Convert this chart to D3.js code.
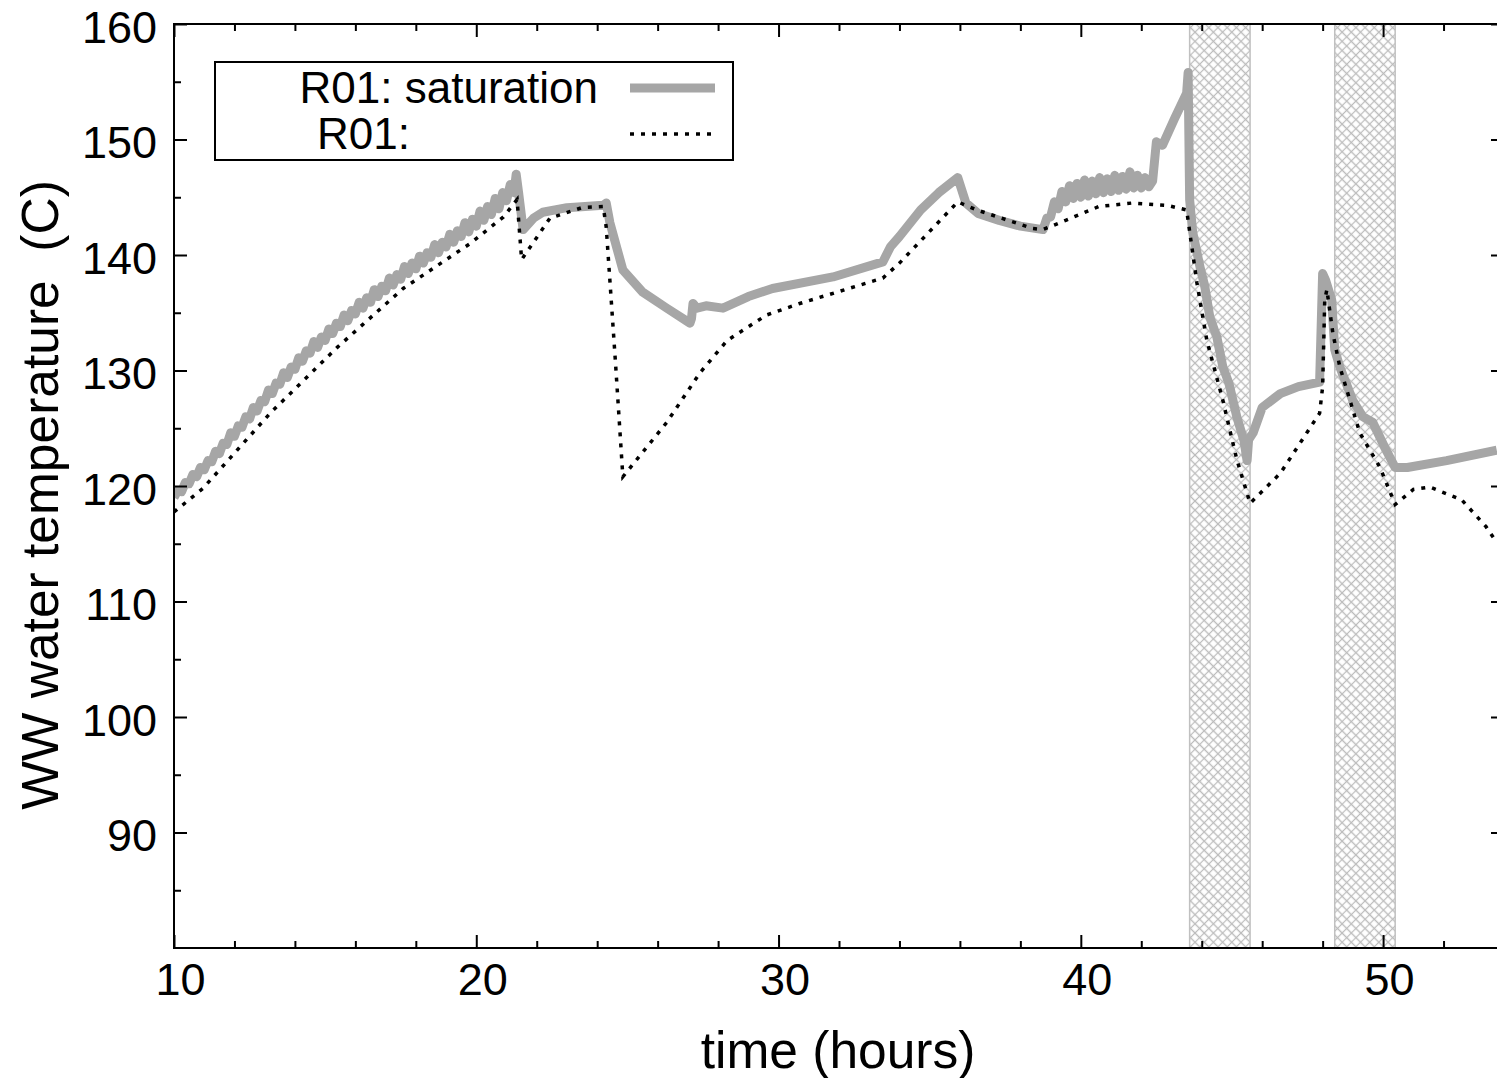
<!DOCTYPE html>
<html>
<head>
<meta charset="utf-8">
<script src="https://d3js.org/d3.v7.min.js"></script>
<style>
  body { margin: 0; background: #fff; }
  svg { display: block; font-family: "Liberation Sans", Arial, sans-serif; }
</style>
</head>
<body>
<div id="chart"></div>
<script>
// saturation temperature (grey, thick) - noisy parts read as a fine zigzag
const satTime = [
  10.000, 10.125, 10.250, 10.375, 10.500, 10.625, 10.750, 10.875, 11.000, 11.125,
  11.250, 11.375, 11.500, 11.625, 11.750, 11.875, 12.000, 12.125, 12.250, 12.375,
  12.500, 12.625, 12.750, 12.875, 13.000, 13.125, 13.250, 13.375, 13.500, 13.625,
  13.750, 13.875, 14.000, 14.125, 14.250, 14.375, 14.500, 14.625, 14.750, 14.875,
  15.000, 15.125, 15.250, 15.375, 15.500, 15.625, 15.750, 15.875, 16.000, 16.125,
  16.250, 16.375, 16.500, 16.625, 16.750, 16.875, 17.000, 17.125, 17.250, 17.375,
  17.500, 17.625, 17.750, 17.875, 18.000, 18.125, 18.250, 18.375, 18.500, 18.625,
  18.750, 18.875, 19.000, 19.125, 19.250, 19.375, 19.500, 19.625, 19.750, 19.875,
  20.000, 20.125, 20.250, 20.375, 20.500, 20.625, 20.750, 20.875, 21.000, 21.125,
  21.250, 21.32, 21.40, 21.55,
  21.9, 22.2, 23.0, 24.2, 24.3, 24.42, 24.85, 25.5, 26.3, 27.07, 27.12, 27.17,
  27.3, 27.6, 28.16, 29.0, 29.8, 31.8, 33.45, 33.7, 34.0, 34.7, 35.3, 35.93,
  36.2, 36.6, 37.3, 38.0, 38.75,
  38.875, 39.000, 39.125, 39.250, 39.375, 39.500, 39.625, 39.750, 39.875, 40.000,
  40.125, 40.250, 40.375, 40.500, 40.625, 40.750, 40.875, 41.000, 41.125, 41.250,
  41.375, 41.500, 41.625, 41.750, 41.875, 42.000, 42.125, 42.250, 42.375,
  42.5, 42.7, 43.1, 43.5, 43.55, 43.6, 43.7, 43.94, 44.1, 44.27, 44.5, 44.7, 44.9,
  45.16, 45.4, 45.5, 45.55, 45.7, 46.0, 46.6, 47.2, 47.9, 48.0, 48.1, 48.3, 48.4,
  48.57, 49.0, 49.33, 49.66, 50.1, 50.4, 50.8, 52.1, 53.76
];
const satTemp = [
  119.0, 119.6, 119.5, 120.3, 120.2, 121.0, 120.8, 121.6, 121.4, 122.2,
  122.1, 123.0, 122.8, 123.7, 123.6, 124.6, 124.3, 125.2, 125.1, 126.0,
  125.8, 126.8, 126.5, 127.4, 127.3, 128.3, 128.0, 128.9, 128.8, 129.8,
  129.4, 130.3, 130.1, 131.1, 130.8, 131.7, 131.5, 132.5, 132.0, 132.9,
  132.6, 133.6, 133.2, 134.1, 133.8, 134.8, 134.3, 135.2, 134.9, 135.9,
  135.4, 136.3, 135.9, 137.0, 136.4, 137.3, 136.9, 138.0, 137.4, 138.3,
  137.9, 139.0, 138.4, 139.3, 138.8, 139.9, 139.3, 140.2, 139.8, 140.9,
  140.2, 141.1, 140.7, 141.8, 141.1, 142.1, 141.6, 142.8, 142.0, 143.1,
  142.5, 143.8, 143.0, 144.2, 143.5, 144.9, 144.0, 145.4, 144.7, 146.1,
  145.4, 147.0, 145.4, 142.2,
  143.2, 143.7, 144.1, 144.3, 144.5, 142.8, 138.7, 136.8, 135.4, 134.1, 134.5, 135.8,
  135.4, 135.6, 135.4, 136.4, 137.1, 138.1, 139.4, 140.7, 141.6, 143.9, 145.4, 146.7,
  144.5, 143.6, 143.0, 142.5, 142.2,
  143.2, 143.3, 144.6, 144.0, 145.5, 144.6, 146.0, 144.9, 146.2, 145.0,
  146.5, 145.1, 146.4, 145.3, 146.7, 145.4, 146.6, 145.5, 146.9, 145.6,
  146.8, 145.7, 147.2, 145.8, 146.9, 145.8, 146.7, 145.9, 146.4,
  149.8, 149.5, 151.8, 154.0, 155.8, 144.8, 142.0, 139.0, 137.3, 134.6, 132.9, 130.3, 128.9,
  126.0, 123.9, 122.2, 124.0, 124.6, 126.8, 128.0, 128.6, 129.0, 138.4, 137.8, 136.1, 131.8,
  130.3, 127.4, 126.0, 125.5, 123.1, 121.6, 121.6, 122.2, 123.1
];

// second R01 series (black, dotted)
const dotTime = [
  10.0, 10.96, 13.18, 15.4, 17.58, 19.8, 20.9, 21.35, 21.5, 22.44, 23.5, 24.2,
  24.3, 24.6, 24.85, 26.3, 27.4, 28.3, 29.6, 30.7, 33.45, 34.0, 35.93, 36.56,
  38.4, 38.75, 39.5, 40.6, 41.7, 42.85, 43.5, 43.84, 44.17, 44.7, 45.16, 45.6,
  46.6, 47.9, 48.0, 48.07, 48.14, 48.34, 48.57, 49.23, 49.9, 50.4, 51.0, 51.55,
  52.6, 53.4, 53.76
];
const dotTemp = [
  117.75, 119.8, 126.3, 132.0, 137.1, 141.0, 143.3, 144.8, 139.6, 143.2, 144.1, 144.2,
  142.4, 130.9, 120.8, 125.5, 129.8, 132.6, 134.8, 135.8, 138.0, 139.3, 144.6, 143.9,
  142.3, 142.2, 143.0, 144.2, 144.5, 144.3, 143.9, 137.6, 132.6, 127.4, 122.3, 118.5,
  121.1, 126.3, 128.6, 136.1, 137.0, 133.2, 130.3, 124.6, 121.6, 118.4, 119.7, 119.9,
  118.8, 116.5, 115.1
];

// hatched time windows
const bandStart = [43.6, 48.4];
const bandEnd = [45.6, 50.4];

const xTicks = [10, 20, 30, 40, 50];
const yTicks = [90, 100, 110, 120, 130, 140, 150, 160];

const legendLabels = ["R01: saturation", "R01:"];

const W = 1497, H = 1078;
const plot = {left: 174, top: 24, right: 1504, bottom: 948};

const svg = d3.select("#chart").append("svg")
  .attr("width", W)
  .attr("height", H);

const x = d3.scaleLinear().domain([10, 54]).range([plot.left, plot.right]);
const y = d3.scaleLinear().domain([80, 160]).range([plot.bottom, plot.top]);

const defs = svg.append("defs");
defs.append("clipPath").attr("id", "clip")
  .append("rect")
  .attr("x", plot.left).attr("y", plot.top)
  .attr("width", plot.right - plot.left).attr("height", plot.bottom - plot.top);

const pat = defs.append("pattern")
  .attr("id", "hatch")
  .attr("patternUnits", "userSpaceOnUse")
  .attr("width", 6.5).attr("height", 6.5)
  .attr("patternTransform", "rotate(45)");
pat.append("path")
  .attr("d", "M0,3.25 H6.5 M3.25,0 V6.5")
  .attr("stroke", "#bcbcbc")
  .attr("stroke-width", 1.2);

const g = svg.append("g").attr("clip-path", "url(#clip)");

// hatched bands
g.selectAll(".band")
  .data(bandStart.map((s, i) => ({s: s, e: bandEnd[i]})))
  .join("rect")
  .attr("class", "band")
  .attr("x", d => x(d.s))
  .attr("y", plot.top)
  .attr("width", d => x(d.e) - x(d.s))
  .attr("height", plot.bottom - plot.top)
  .attr("fill", "url(#hatch)")
  .attr("stroke", "#c0c0c0")
  .attr("stroke-width", 1.5);

const line = d3.line()
  .x(d => x(d[0]))
  .y(d => y(d[1]));

g.append("path")
  .datum(satTime.map((t, i) => [t, satTemp[i]]))
  .attr("fill", "none")
  .attr("stroke", "#a6a6a6")
  .attr("stroke-width", 9)
  .attr("stroke-linejoin", "round")
  .attr("d", line);

g.append("path")
  .datum(dotTime.map((t, i) => [t, dotTemp[i]]))
  .attr("fill", "none")
  .attr("stroke", "#000")
  .attr("stroke-width", 3.5)
  .attr("stroke-dasharray", "4,7")
  .attr("d", line);

// axes: ticks drawn inward on all four sides
function styleAxis(sel) {
  sel.select(".domain").remove();
  sel.selectAll(".tick line").attr("stroke", "#000").attr("stroke-width", 2);
  sel.selectAll(".tick text").attr("fill", "#000");
}

const xMinor = d3.range(10, 56, 2).filter(v => v % 10 !== 0);
const yMinor = d3.range(85, 160, 10);

svg.append("g")
  .attr("transform", `translate(0,${plot.bottom})`)
  .call(d3.axisBottom(x).tickValues(xTicks).tickSize(-13).tickPadding(13))
  .call(styleAxis)
  .call(s => s.selectAll(".tick text").attr("font-size", 45).attr("dx", 6).attr("dy", "0.75em"));

svg.append("g")
  .attr("transform", `translate(0,${plot.bottom})`)
  .call(d3.axisBottom(x).tickValues(xMinor).tickSize(-7).tickFormat(""))
  .call(styleAxis);

svg.append("g")
  .attr("transform", `translate(0,${plot.top})`)
  .call(d3.axisTop(x).tickValues(xTicks).tickSize(-13).tickFormat(""))
  .call(styleAxis);

svg.append("g")
  .attr("transform", `translate(0,${plot.top})`)
  .call(d3.axisTop(x).tickValues(xMinor).tickSize(-7).tickFormat(""))
  .call(styleAxis);

svg.append("g")
  .attr("transform", `translate(${plot.left},0)`)
  .call(d3.axisLeft(y).tickValues(yTicks).tickSize(-13).tickPadding(17))
  .call(styleAxis)
  .call(s => s.selectAll(".tick text").attr("font-size", 45).attr("dy", "0.4em"));

svg.append("g")
  .attr("transform", `translate(${plot.left},0)`)
  .call(d3.axisLeft(y).tickValues(yMinor).tickSize(-7).tickFormat(""))
  .call(styleAxis);

svg.append("g")
  .attr("transform", `translate(${plot.right},0)`)
  .call(d3.axisRight(y).tickValues(yTicks).tickSize(-13).tickFormat(""))
  .call(styleAxis);

svg.append("g")
  .attr("transform", `translate(${plot.right},0)`)
  .call(d3.axisRight(y).tickValues(yMinor).tickSize(-7).tickFormat(""))
  .call(styleAxis);

// frame
svg.append("rect")
  .attr("x", plot.left).attr("y", plot.top)
  .attr("width", plot.right - plot.left).attr("height", plot.bottom - plot.top)
  .attr("fill", "none")
  .attr("stroke", "#000")
  .attr("stroke-width", 2);

// axis titles
svg.append("text")
  .attr("x", 838)
  .attr("y", 1068)
  .attr("text-anchor", "middle")
  .attr("font-size", 51.5)
  .text("time (hours)");

svg.append("text")
  .attr("transform", "translate(58,495) rotate(-90)")
  .attr("text-anchor", "middle")
  .attr("font-size", 51.5)
  .style("white-space", "pre")
  .text("WW water temperature  (C)");

// legend
const legend = svg.append("g");
legend.append("rect")
  .attr("x", 215).attr("y", 62)
  .attr("width", 518).attr("height", 98)
  .attr("fill", "#fff")
  .attr("stroke", "#000")
  .attr("stroke-width", 2);

legend.append("text")
  .attr("x", 598).attr("y", 103)
  .attr("text-anchor", "end")
  .attr("font-size", 44)
  .text(legendLabels[0]);

legend.append("text")
  .attr("x", 317).attr("y", 149)
  .attr("font-size", 44)
  .text(legendLabels[1]);

legend.append("line")
  .attr("x1", 630).attr("x2", 715)
  .attr("y1", 88).attr("y2", 88)
  .attr("stroke", "#a6a6a6")
  .attr("stroke-width", 9);

legend.append("line")
  .attr("x1", 630).attr("x2", 712)
  .attr("y1", 134).attr("y2", 134)
  .attr("stroke", "#000")
  .attr("stroke-width", 3.5)
  .attr("stroke-dasharray", "4,7");
</script>
</body>
</html>
